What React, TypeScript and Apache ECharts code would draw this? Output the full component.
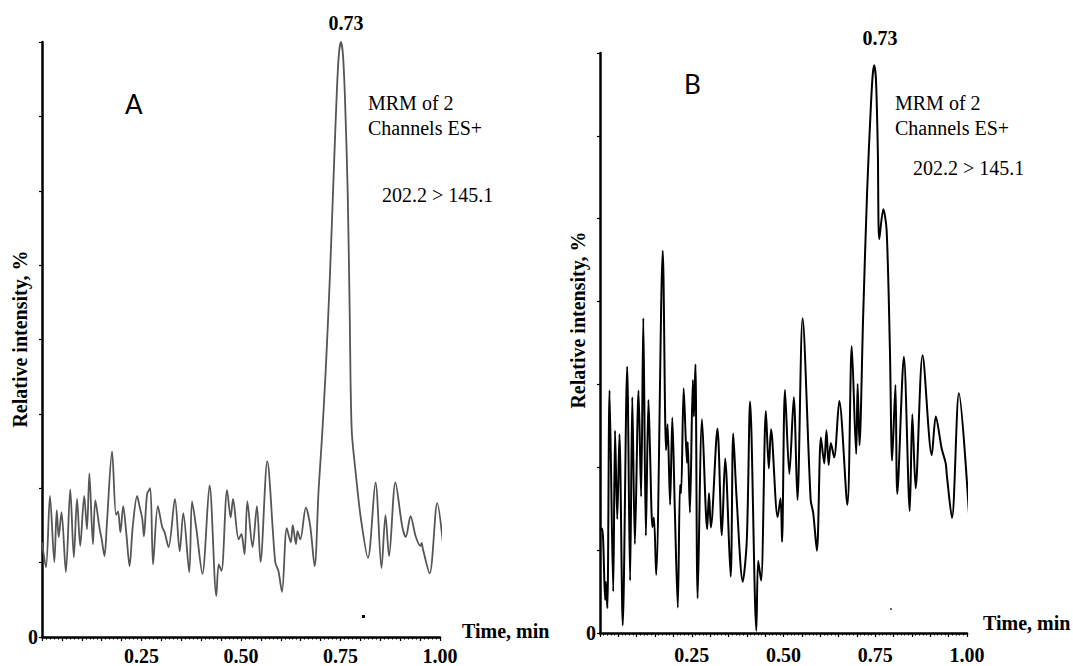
import React, { useEffect, useRef } from 'react';
import * as echarts from 'echarts';

// Panel A: time (min) and relative intensity (%)
const leftTime = [
  0.000, 0.010, 0.020, 0.031, 0.037, 0.042, 0.049, 0.060, 0.071, 0.080,
  0.088, 0.096, 0.106, 0.113, 0.119, 0.128, 0.134, 0.144, 0.150, 0.157,
  0.163, 0.176, 0.186, 0.191, 0.197, 0.204, 0.212, 0.220, 0.228, 0.239,
  0.245, 0.252, 0.256, 0.264, 0.272, 0.279, 0.291, 0.302, 0.308, 0.318,
  0.334, 0.346, 0.355, 0.370, 0.377, 0.388, 0.403, 0.421, 0.438, 0.444,
  0.451, 0.465, 0.474, 0.480, 0.494, 0.501, 0.504, 0.509, 0.516, 0.529,
  0.540, 0.549, 0.566, 0.586, 0.594, 0.603, 0.615, 0.625, 0.630, 0.638,
  0.642, 0.649, 0.663, 0.674, 0.685, 0.695, 0.703, 0.713, 0.723, 0.733,
  0.741, 0.746, 0.751, 0.756, 0.761, 0.768, 0.773, 0.778, 0.788, 0.801,
  0.819, 0.838, 0.853, 0.863, 0.872, 0.888, 0.905, 0.914, 0.926, 0.939,
  0.951, 0.954, 0.957, 0.974, 0.993, 1.014,
];
const leftIntensity = [
  15.9, 11.7, 23.7, 12.6, 21.3, 16.8, 21.0, 10.9, 24.8, 13.4,
  23.2, 15.3, 23.7, 18.1, 27.5, 15.6, 23.0, 18.5, 16.4, 13.6,
  19.0, 31.2, 20.5, 21.1, 17.6, 22.0, 17.3, 11.9, 18.6, 23.7,
  22.0, 19.8, 16.9, 24.0, 25.0, 12.2, 22.0, 18.5, 17.6, 15.1,
  23.2, 14.4, 20.8, 10.9, 22.8, 18.1, 10.6, 25.5, 6.9, 12.2,
  11.1, 24.7, 20.1, 23.2, 16.4, 17.3, 16.4, 13.9, 22.8, 15.1,
  22.0, 12.6, 29.5, 12.6, 11.1, 7.6, 18.3, 15.9, 18.8, 15.6,
  17.8, 16.4, 21.8, 18.6, 11.9, 24.8, 33.0, 45.0, 60.0, 78.0,
  92.0, 98.0, 100.0, 98.0, 91.0, 75.0, 55.0, 35.0, 27.7, 20.0,
  13.3, 26.0, 11.6, 20.5, 13.6, 26.0, 18.6, 16.8, 20.3, 16.9,
  15.3, 15.8, 14.8, 10.7, 22.5, 11.1,
];

// Panel B
const rightTime = [
  0.000, 0.006, 0.014, 0.016, 0.020, 0.026, 0.036, 0.041, 0.047, 0.053,
  0.062, 0.074, 0.082, 0.088, 0.095, 0.105, 0.112, 0.118, 0.125, 0.132,
  0.136, 0.143, 0.147, 0.153, 0.171, 0.180, 0.184, 0.191, 0.197, 0.204,
  0.212, 0.218, 0.221, 0.228, 0.237, 0.239, 0.245, 0.253, 0.256, 0.260,
  0.266, 0.278, 0.292, 0.297, 0.302, 0.320, 0.332, 0.341, 0.356, 0.363,
  0.372, 0.389, 0.400, 0.409, 0.426, 0.431, 0.439, 0.452, 0.460, 0.466,
  0.484, 0.492, 0.496, 0.504, 0.516, 0.528, 0.538, 0.552, 0.574, 0.581,
  0.591, 0.602, 0.611, 0.617, 0.623, 0.629, 0.638, 0.652, 0.674, 0.686,
  0.698, 0.702, 0.707, 0.717, 0.728, 0.738, 0.743, 0.747, 0.752, 0.757,
  0.761, 0.772, 0.781, 0.790, 0.796, 0.805, 0.810, 0.828, 0.844, 0.851,
  0.860, 0.879, 0.904, 0.915, 0.931, 0.942, 0.945, 0.959, 0.978, 1.006,
];
const rightIntensity = [
  18.6, 18.9, 6.0, 9.3, 4.5, 43.9, 7.5, 36.6, 20.6, 36.0,
  1.4, 48.2, 9.5, 42.7, 16.1, 43.9, 24.7, 57.0, 17.6, 42.2,
  33.7, 19.2, 20.9, 10.5, 69.2, 33.1, 37.8, 23.2, 39.0, 22.0,
  4.6, 26.8, 25.3, 44.3, 30.8, 34.6, 21.8, 45.8, 39.2, 48.6,
  6.3, 38.7, 18.8, 25.3, 19.1, 37.0, 17.7, 31.6, 10.2, 36.1,
  24.7, 9.3, 16.8, 41.9, 0.4, 13.1, 9.5, 40.2, 29.8, 36.9,
  21.0, 24.4, 16.5, 44.0, 28.8, 42.7, 24.1, 57.0, 24.1, 21.7,
  14.9, 35.4, 30.7, 36.7, 30.4, 34.4, 31.8, 42.0, 23.2, 51.9,
  32.4, 45.1, 34.0, 57.3, 80.2, 95.3, 101.0, 102.8, 100.1, 87.4,
  71.3, 76.7, 72.9, 51.2, 31.2, 44.9, 25.2, 50.0, 22.1, 39.6,
  26.2, 50.3, 32.2, 39.2, 33.4, 30.7, 28.6, 20.8, 43.4, 21.0,
];

const xTickLabels = ['0.25', '0.50', '0.75', '1.00'];
const yZeroLabel = '0';
const panelLabels = ['A', 'B'];
const peakLabel = '0.73';
const infoLines = ['MRM of 2', 'Channels ES+', '202.2 > 145.1'];
const xTitle = 'Time, min';
const yTitle = 'Relative intensity, %';

const SERIF = '"Liberation Serif", "Times New Roman", serif';

function pairs(t: number[], v: number[]) {
  return t.map((x, i) => [x, v[i]]);
}

export default function App() {
  const ref = useRef<HTMLDivElement>(null);

  useEffect(() => {
    if (!ref.current) return;
    const chart = echarts.init(ref.current, null, { renderer: 'svg' });

    const xAxis = (gridIndex: number, margin: number) => ({
      type: 'value',
      gridIndex,
      min: 0,
      max: 1,
      interval: 0.05,
      axisLine: { show: true, onZero: false, lineStyle: { color: '#000', width: 2.5 } },
      axisTick: { show: true, length: 4, lineStyle: { color: '#000', width: 1.2 } },
      minorTick: { show: true, splitNumber: 5, length: 2.5, lineStyle: { color: '#000', width: 1 } },
      splitLine: { show: false },
      minorSplitLine: { show: false },
      axisLabel: {
        margin,
        fontFamily: SERIF,
        fontWeight: 'bold',
        fontSize: 20,
        color: '#000',
        formatter: (v: number) => {
          const k = Math.round(v * 4);
          return Math.abs(v * 4 - k) < 1e-6 && k > 0 ? xTickLabels[k - 1] : '';
        },
      },
    });

    const yAxis = (gridIndex: number, max: number, interval: number) => ({
      type: 'value',
      gridIndex,
      min: 0,
      max,
      interval,
      axisLine: { show: true, onZero: false, lineStyle: { color: '#000', width: 2.5 } },
      axisTick: { show: true, length: 3, lineStyle: { color: '#000', width: 1.2 } },
      splitLine: { show: false },
      axisLabel: {
        margin: 4,
        fontFamily: SERIF,
        fontWeight: 'bold',
        fontSize: 20,
        color: '#000',
        formatter: (v: number) => (v === 0 ? yZeroLabel : ''),
      },
    });

    const txt = (
      text: string,
      x: number,
      y: number,
      font: string,
      align = 'left',
      rotation = 0
    ) => ({
      type: 'text',
      x,
      y,
      rotation,
      silent: true,
      style: {
        text,
        fill: '#000',
        font,
        align,
        textAlign: align,
        verticalAlign: 'middle',
        textVerticalAlign: 'middle',
      },
    });

    const bold = `bold 20px ${SERIF}`;
    const normal = `20px ${SERIF}`;
    const sans = `26px Lato, "Open Sans", sans-serif`;

    chart.setOption({
      animation: false,
      backgroundColor: '#fff',
      grid: [
        { left: 42, top: 42, width: 398, height: 596, containLabel: false },
        { left: 600, top: 53, width: 367, height: 580, containLabel: false },
      ],
      xAxis: [xAxis(0, 9), xAxis(1, 12)],
      yAxis: [yAxis(0, 100, 12.5), yAxis(1, 105, 15)],
      series: [
        {
          type: 'line',
          xAxisIndex: 0,
          yAxisIndex: 0,
          data: pairs(leftTime, leftIntensity),
          smooth: 0.3,
          showSymbol: false,
          clip: false,
          lineStyle: { color: '#555', width: 1.8 },
        },
        {
          type: 'line',
          xAxisIndex: 1,
          yAxisIndex: 1,
          data: pairs(rightTime, rightIntensity),
          smooth: 0.3,
          showSymbol: false,
          clip: false,
          lineStyle: { color: '#000', width: 2 },
        },
      ],
      graphic: [
        txt(panelLabels[0], 125, 104, sans),
        txt(panelLabels[1], 684, 84, sans),
        txt(peakLabel, 346, 23, bold, 'center'),
        txt(peakLabel, 880, 38, bold, 'center'),
        txt(infoLines[0], 368, 103, normal),
        txt(infoLines[1], 368, 128, normal),
        txt(infoLines[2], 382, 195, normal),
        txt(infoLines[0], 895, 103, normal),
        txt(infoLines[1], 895, 128, normal),
        txt(infoLines[2], 913, 168, normal),
        txt(xTitle, 462, 631, bold),
        txt(xTitle, 983, 623, bold),
        txt(yTitle, 20, 339, bold, 'center', Math.PI / 2),
        txt(yTitle, 578, 320, bold, 'center', Math.PI / 2),
        { type: 'rect', silent: true, shape: { x: 362, y: 615, width: 3, height: 3 }, style: { fill: '#000' } },
        { type: 'rect', silent: true, shape: { x: 890, y: 608, width: 2, height: 2 }, style: { fill: '#666' } },
      ],
    });

    return () => chart.dispose();
  }, []);

  return (
    <div
      ref={ref}
      style={{ position: 'absolute', left: 0, top: 0, width: 1073, height: 666 }}
    />
  );
}
